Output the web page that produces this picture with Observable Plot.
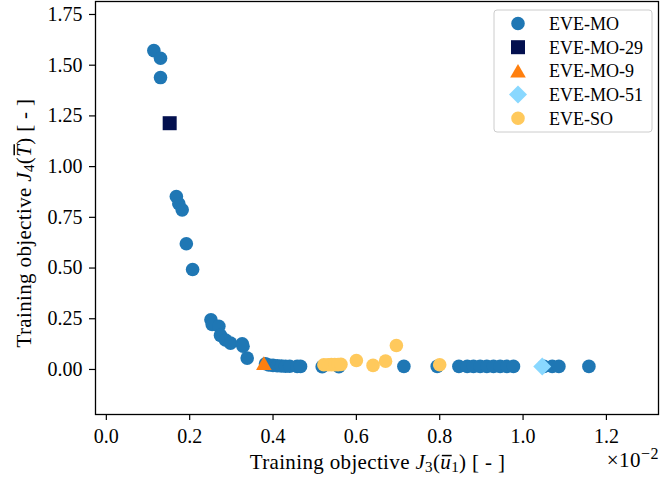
<!DOCTYPE html>
<html><head><meta charset="utf-8">
<script src="https://cdn.jsdelivr.net/npm/d3@7"></script>
<script src="https://cdn.jsdelivr.net/npm/@observablehq/plot@0.6"></script>
<style>
html,body{margin:0;padding:0;background:#fff}
#chart{width:660px;height:479px}
</style>
</head><body><div id="chart"></div>
<script>
// J3 values are in units of 1e-2
const moX = [0.114,0.130,0.130,0.168,0.174,0.182,0.192,0.207,0.251,0.254,0.270,0.274,0.286,0.298,0.326,0.328,0.338,
  0.382,0.390,0.400,0.410,0.420,0.430,0.440,0.458,0.466,0.518,0.558,0.714,0.794,0.846,0.866,0.881,0.897,0.913,0.929,0.945,0.961,0.977,1.050,1.070,1.086,1.158];
const moY = [1.572,1.534,1.439,0.853,0.817,0.787,0.620,0.493,0.245,0.222,0.213,0.168,0.145,0.130,0.127,0.115,0.056,
  0.028,0.022,0.020,0.018,0.017,0.016,0.016,0.015,0.015,0.014,0.014,0.015,0.015,0.015,0.015,0.015,0.015,0.015,0.015,0.015,0.015,0.015,0.015,0.015,0.015,0.015];
const mo29X = [0.152], mo29Y = [1.214];
const mo9X = [0.378],  mo9Y = [0.030];
const mo51X = [1.046], mo51Y = [0.015];
const soX = [0.522,0.532,0.540,0.548,0.556,0.563,0.600,0.640,0.670,0.696,0.800];
const soY = [0.023,0.023,0.024,0.024,0.024,0.025,0.044,0.020,0.041,0.118,0.023];

const xTicks = [0,0.2,0.4,0.6,0.8,1.0,1.2];
const yTicks = [0,0.25,0.5,0.75,1.0,1.25,1.5,1.75];

const seriesNames  = ["EVE-MO","EVE-MO-29","EVE-MO-9","EVE-MO-51","EVE-SO"];
const seriesColors = ["#1f77b4","#03104f","#ff7f0e","#89d8ff","#ffc95c"];
const seriesSymbols= ["circle","square","triangle","diamond2","circle"];
const seriesR      = [6.8, 7.9, 5.8, 8.1, 6.8];

const toRows = (xs, ys) => xs.map((x,i)=>({x, y: ys[i]}));
const sets = [toRows(moX,moY), toRows(mo29X,mo29Y), toRows(mo9X,mo9Y), toRows(mo51X,mo51Y), toRows(soX,soY)];

const FONT = "Liberation Serif";
const svg = Plot.plot({
  width: 660, height: 479,
  marginLeft: 95, marginRight: 2, marginTop: 1, marginBottom: 65,
  x: {domain: [-0.026, 1.325]},
  y: {domain: [-0.222, 1.814]},
  style: {fontFamily: FONT, fontSize: "20px", color: "black", background: "white", overflow: "visible"},
  marks: [
    Plot.axisX({ticks: xTicks, tickFormat: d3.format(".1f"), tickSize: 6, tickPadding: 8, label: null, stroke: "black", strokeWidth: 1.2, fill: "black"}),
    Plot.axisY({ticks: yTicks, tickFormat: d3.format(".2f"), tickSize: 6, tickPadding: 7, label: null, stroke: "black", strokeWidth: 1.2, fill: "black"}),
    ...sets.map((rows, i) => Plot.dot(rows, {
      x: "x", y: "y", r: seriesR[i], symbol: seriesSymbols[i], fill: seriesColors[i], stroke: "none",
      dy: seriesSymbols[i] === "triangle" ? 2 : 0
    })),
    Plot.frame({stroke: "black", strokeWidth: 1.3})
  ]
});
document.getElementById("chart").appendChild(svg);

const s = d3.select(svg);
const fs = 21;

function mathLabel(g, sub, barLetter, barSub, barHeight) {
  const t = g.append("text").attr("x", 0).attr("y", 0).attr("text-anchor","middle")
    .attr("font-family", FONT).attr("font-size", fs).attr("letter-spacing", 0.35).attr("fill","black");
  t.append("tspan").text("Training objective ");
  t.append("tspan").attr("font-style","italic").text("J");
  t.append("tspan").attr("font-size", fs*0.72).attr("baseline-shift","-22%").text(sub);
  t.append("tspan").text("(");
  t.append("tspan").attr("font-style","italic").text(barLetter);
  if (barSub) t.append("tspan").attr("font-size", fs*0.72).attr("baseline-shift","-22%").text(barSub);
  t.append("tspan").text(") [ - ]");
  // overline over the barred letter, measured from the rendered glyph
  const idx = "Training objective ".length + 1 + sub.length + 1;
  const r = t.node().getExtentOfChar(idx);
  g.append("line").attr("x1", r.x + 1.5).attr("x2", r.x + r.width + 0.5)
    .attr("y1", -barHeight*fs).attr("y2", -barHeight*fs)
    .attr("stroke","black").attr("stroke-width", 1.5);
}
mathLabel(s.append("g").attr("transform","translate(377.5,469)"), "3", "u", "1", 0.64);
mathLabel(s.append("g").attr("transform","translate(31,223) rotate(-90)"), "4", "T", null, 0.80);

// offset text
const ot = s.append("text").attr("x", 659).attr("y", 467).attr("text-anchor","end")
  .attr("font-family", FONT).attr("font-size", 21).attr("letter-spacing", 0.5).attr("fill","black");
ot.append("tspan").text("×10");
ot.append("tspan").attr("font-size", 16).attr("baseline-shift","48%").text("−2");

// legend
const lg = s.append("g").attr("transform","translate(494,10)");
lg.append("rect").attr("width",158).attr("height",122).attr("rx",3)
  .attr("fill","rgba(255,255,255,0.8)").attr("stroke","#cccccc").attr("stroke-width",1);
const d3sym = {circle: d3.symbolCircle, square: d3.symbolSquare, triangle: d3.symbolTriangle, diamond2: d3.symbolDiamond2};
seriesNames.forEach((name, i) => {
  const cy = 13.5 + i*23.7;
  lg.append("path").attr("transform", `translate(24,${cy + (seriesSymbols[i]==="triangle"?2:0)})`)
    .attr("d", d3.symbol(d3sym[seriesSymbols[i]], Math.PI*seriesR[i]*seriesR[i])())
    .attr("fill", seriesColors[i]);
  lg.append("text").attr("x", 55).attr("y", cy).attr("dy","0.35em").attr("text-anchor","start")
    .attr("font-family", FONT).attr("font-size", 18).attr("fill","black").text(name);
});
</script>
</body></html>
